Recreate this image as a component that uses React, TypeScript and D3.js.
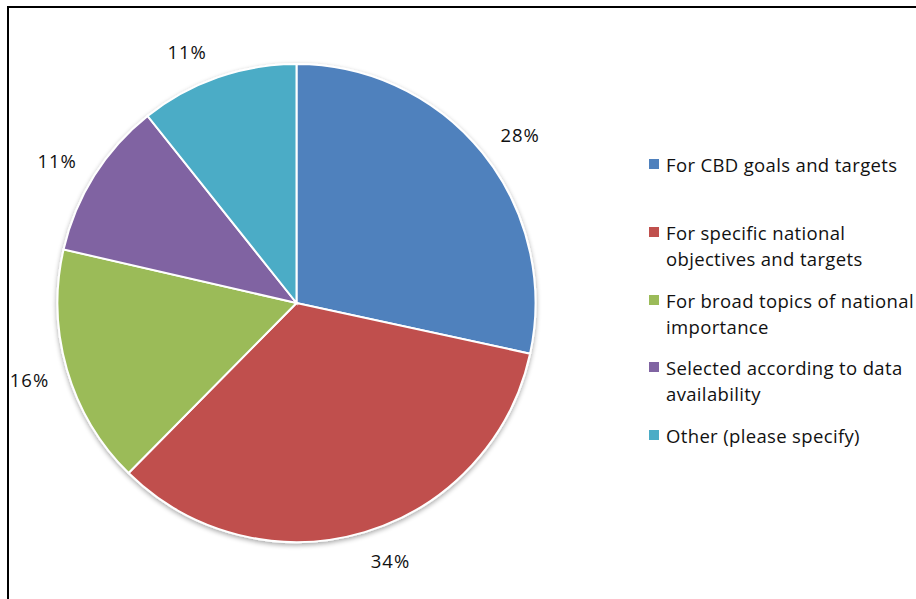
import { arc, pie, scaleOrdinal } from 'd3'

const categories = [
  'For CBD goals and targets',
  'For specific national objectives and targets',
  'For broad topics of national importance',
  'Selected according to data availability',
  'Other (please specify)',
]

const shares = [28.4, 34.0, 16.2, 10.7, 10.7]

// legend text as it wraps in the original
const legendLines = [
  ['For CBD goals and targets'],
  ['For specific national', 'objectives and targets'],
  ['For broad topics of national', 'importance'],
  ['Selected according to data', 'availability'],
  ['Other (please specify)'],
]

const colors = ['#4f81bd', '#c0504d', '#9bbb59', '#8064a2', '#4bacc6']

const width = 916
const height = 599
const center = { x: 296.5, y: 303 }
const radius = 239
const labelRadius = 277
const font = "'Open Sans', 'Noto Sans', sans-serif"

// small nudges so the labels sit where the original "best fit" put them
const labelNudge = [
  [8, 5],
  [15, -8],
  [-1, -1],
  [-5, 5],
  [-18, 10],
]

// centre of the first line of each legend entry
const legendTops = [164, 232, 300, 367, 435]

export default function App() {
  const color = scaleOrdinal<string>().domain(categories).range(colors)

  const slices = pie<number>()
    .sort(null)
    .value((d) => d)(shares)

  const sliceArc = arc<any>().innerRadius(0).outerRadius(radius)
  const labelArc = arc<any>().innerRadius(labelRadius).outerRadius(labelRadius)

  return (
    <div style={{ position: 'fixed', left: 0, top: 0 }}>
      <svg width={width} height={height} style={{ display: 'block', background: '#fff' }}>
        <defs>
          <filter id="pie-shadow" x="-10%" y="-10%" width="120%" height="120%">
            <feGaussianBlur in="SourceAlpha" stdDeviation="2.5" />
            <feOffset dx="0" dy="2" result="blur" />
            <feComponentTransfer>
              <feFuncA type="linear" slope="0.35" />
            </feComponentTransfer>
            <feMerge>
              <feMergeNode />
              <feMergeNode in="SourceGraphic" />
            </feMerge>
          </filter>
        </defs>

        {/* chart frame, runs off the right and bottom edges */}
        <rect x={8} y={7} width={1000} height={700} fill="none" stroke="#000" strokeWidth={2} />

        <g transform={`translate(${center.x}, ${center.y})`}>
          <g filter="url(#pie-shadow)">
            {slices.map((s, i) => (
              <path
                key={categories[i]}
                d={sliceArc(s) ?? ''}
                fill={color(categories[i])}
                stroke="#fff"
                strokeWidth={2}
              />
            ))}
          </g>
          {slices.map((s, i) => {
            const [lx, ly] = labelArc.centroid(s)
            return (
              <text
                key={`label-${i}`}
                x={lx + labelNudge[i][0]}
                y={ly + labelNudge[i][1]}
                textAnchor="middle"
                dominantBaseline="central"
                fontFamily={font}
                fontSize={18.5}
                letterSpacing={1}
                fill="#111"
              >
                {Math.round(shares[i])}%
              </text>
            )
          })}
        </g>

        <g fontFamily={font} fontSize={18.5} letterSpacing={0.35} fill="#111">
          {legendLines.map((lines, i) => (
            <g key={categories[i]} transform={`translate(649, ${legendTops[i]})`}>
              <rect x={0} y={-5} width={10} height={10} fill={color(categories[i])} />
              {lines.map((line, j) => (
                <text key={line} x={17} y={j * 26} dominantBaseline="central">
                  {line}
                </text>
              ))}
            </g>
          ))}
        </g>
      </svg>
    </div>
  )
}
